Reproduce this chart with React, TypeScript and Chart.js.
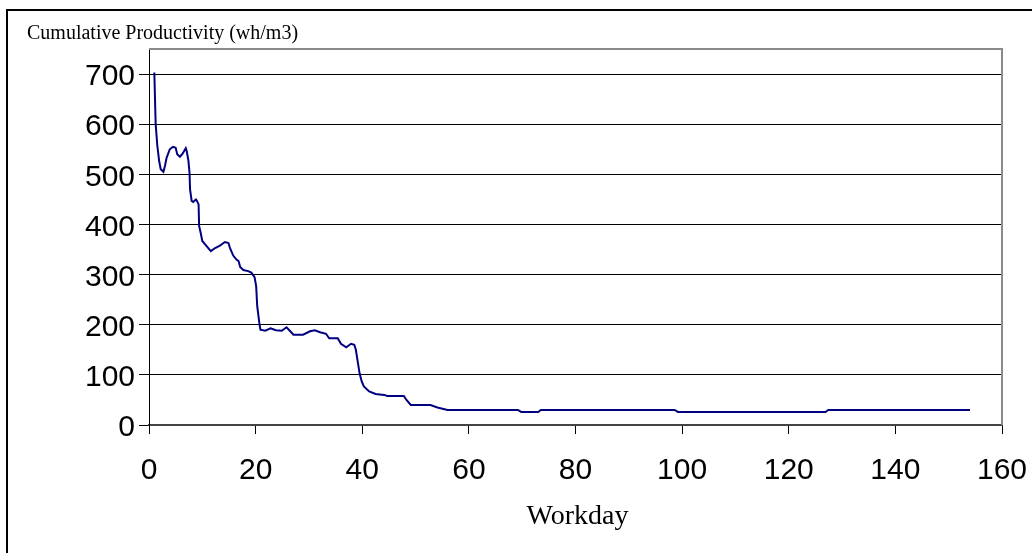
import React, { useEffect, useRef } from "react";
import { Chart, registerables } from "chart.js";

Chart.register(...registerables);

const chartTitle = "Cumulative Productivity (wh/m3)";
const xAxisTitle = "Workday";

const xTickValues = [0, 20, 40, 60, 80, 100, 120, 140, 160];
const yTickValues = [0, 100, 200, 300, 400, 500, 600, 700];

const workdays = [
  1, 1.25, 1.56, 1.9, 2.2, 2.7, 3.0, 3.3, 3.9, 4.5, 5.0, 5.3, 5.8, 6.3, 6.9, 7.06,
  7.4, 7.6, 7.7, 8.0, 8.3, 8.8, 9.0, 9.3, 9.4, 9.7, 10.0, 10.8, 11.6, 12.4, 13.3,
  14.25, 14.9, 15.2, 15.8, 16.4, 16.8, 17.1, 17.7, 18.6, 19.2, 19.8, 20.1, 20.3,
  20.7, 20.9, 21.8, 22.8, 23.8, 24.9, 25.8, 26.5, 27.1, 28.9, 30.2, 31.1, 32.1,
  33.2, 33.8, 35.4, 36.0, 37.0, 37.9, 38.5, 38.8, 39.1, 39.5, 39.9, 40.3, 41.3,
  42.5, 44.1, 44.7, 47.8, 48.3, 49.1, 52.8, 54.1, 56.0, 69.2, 69.8, 73.0, 73.5,
  98.6, 99.2, 126.9, 127.4, 154,
];

const productivity = [
  703, 600, 557, 527, 510, 505, 517, 533, 550, 555, 553, 540, 535, 541, 552, 547,
  527, 503, 470, 447, 445, 450, 447, 440, 397, 383, 367, 357, 347, 353, 358,
  365, 363, 353, 338, 330, 327, 315, 309, 307, 304, 295, 277, 237,
  203, 190, 188, 193, 189, 188, 195, 187, 180, 180, 187, 189, 185,
  182, 173, 173, 162, 155, 162, 160, 150, 130, 103, 87, 77, 67,
  62, 60, 58, 58, 50, 40, 40, 35, 30, 30, 26, 26, 30,
  30, 26, 26, 30, 30,
];

export default function App() {
  const ref = useRef<HTMLCanvasElement>(null);

  useEffect(() => {
    if (!ref.current) return;

    const decorPlugin = {
      id: "decor",
      afterDraw(chart: any) {
        const ctx = chart.ctx;
        const a = chart.chartArea;
        ctx.save();
        ctx.strokeStyle = "#8a8a8a";
        ctx.lineWidth = 2;
        ctx.beginPath();
        ctx.moveTo(a.left, a.top);
        ctx.lineTo(a.right, a.top);
        ctx.lineTo(a.right, a.bottom);
        ctx.stroke();

        ctx.fillStyle = "#000";
        ctx.textBaseline = "alphabetic";
        ctx.textAlign = "left";
        ctx.font = '20px "Liberation Serif"';
        ctx.fillText(chartTitle, 27, 39);

        ctx.textAlign = "center";
        ctx.font = '28px "Liberation Serif"';
        ctx.fillText(xAxisTitle, (a.left + a.right) / 2 + 2, 524);
        ctx.restore();
      },
    };

    const chart = new Chart(ref.current, {
      type: "line",
      data: {
        datasets: [
          {
            data: workdays.map((x, i) => ({ x, y: productivity[i] })),
            borderColor: "#000080",
            borderWidth: 2,
            pointRadius: 0,
            tension: 0,
            fill: false,
          },
        ],
      },
      options: {
        animation: false,
        responsive: false,
        layout: { padding: { top: 49, right: 30, left: 0, bottom: 0 } },
        plugins: {
          legend: { display: false },
          tooltip: { enabled: false },
          title: { display: false },
        },
        scales: {
          x: {
            type: "linear",
            min: 0,
            max: 160,
            afterBuildTicks: (scale: any) => {
              scale.ticks = xTickValues.map((v) => ({ value: v }));
            },
            afterFit: (scale: any) => {
              scale.height = 128;
              scale.paddingLeft = 0;
              scale.paddingRight = 0;
            },
            grid: {
              display: true,
              drawOnChartArea: false,
              drawTicks: true,
              tickLength: 9,
              color: "#000",
              lineWidth: 1,
            },
            border: { display: true, color: "#444", width: 2 },
            ticks: {
              autoSkip: false,
              maxRotation: 0,
              minRotation: 0,
              padding: 19,
              color: "#000",
              font: { family: '"Liberation Sans", Arial, sans-serif', size: 30 },
            },
          },
          y: {
            type: "linear",
            min: 0,
            max: 750,
            afterBuildTicks: (scale: any) => {
              scale.ticks = yTickValues.map((v) => ({ value: v }));
            },
            afterFit: (scale: any) => {
              scale.width = 149;
              scale.paddingTop = 0;
              scale.paddingBottom = 0;
            },
            grid: {
              display: true,
              drawOnChartArea: true,
              drawTicks: true,
              tickLength: 10,
              color: "#000",
              lineWidth: 1,
            },
            border: { display: true, color: "#000", width: 1 },
            ticks: {
              autoSkip: false,
              padding: 4,
              labelOffset: 3,
              color: "#000",
              font: { family: '"Liberation Sans", Arial, sans-serif', size: 30 },
            },
          },
        },
      },
      plugins: [decorPlugin],
    });

    return () => chart.destroy();
  }, []);

  return (
    <div
      style={{
        position: "fixed",
        left: 0,
        top: 0,
        width: 1032,
        height: 553,
        overflow: "hidden",
        background: "#fff",
      }}
    >
      <div
        style={{
          position: "absolute",
          left: 6,
          top: 9,
          width: 1100,
          height: 600,
          borderLeft: "2px solid #000",
          borderTop: "2px solid #000",
        }}
      />
      <canvas
        ref={ref}
        width={1032}
        height={553}
        style={{ position: "absolute", left: 0, top: 0, width: 1032, height: 553 }}
      />
    </div>
  );
}
